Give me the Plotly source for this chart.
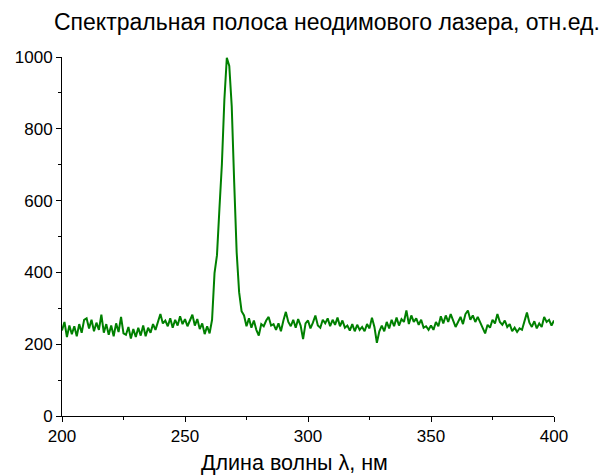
import plotly.graph_objects as go

wavelength = list(range(200, 401))
intensity = [
    # 200-209
    238, 262, 220, 252, 228, 250, 222, 256, 232, 268,
    # 210-219
    272, 244, 268, 236, 260, 240, 282, 232, 256, 226,
    # 220-229
    252, 222, 258, 234, 276, 230, 226, 248, 216, 242,
    # 230-239
    220, 246, 224, 252, 222, 246, 232, 256, 240, 266,
    # 240-249
    284, 258, 266, 250, 272, 246, 268, 252, 278, 256,
    # 250-259
    270, 250, 268, 282, 252, 270, 242, 258, 228, 250,
    # 260-269
    230, 268, 398, 448, 578, 702, 880, 998, 975, 862,
    # 270-279
    650, 456, 345, 292, 280, 250, 272, 246, 266, 240,
    # 280-289
    224, 256, 250, 266, 276, 252, 256, 240, 258, 236,
    # 290-299
    266, 290, 262, 250, 268, 246, 270, 252, 214, 258,
    # 300-309
    266, 244, 260, 280, 252, 246, 268, 258, 272, 250,
    # 310-319
    268, 254, 274, 250, 266, 246, 252, 238, 256, 236,
    # 320-329
    254, 240, 248, 236, 256, 244, 274, 248, 204, 236,
    # 330-339
    252, 236, 262, 244, 268, 250, 274, 252, 270, 262,
    # 340-349
    294, 256, 280, 262, 272, 254, 268, 246, 250, 240,
    # 350-359
    252, 240, 262, 250, 278, 258, 280, 262, 284, 266,
    # 360-369
    248, 262, 276, 256, 284, 294, 268, 280, 262, 276,
    # 370-379
    262, 246, 230, 254, 246, 268, 258, 284, 262, 254,
    # 380-389
    266, 248, 256, 236, 246, 234, 244, 240, 266, 288,
    # 390-399
    260, 248, 264, 244, 258, 248, 276, 262, 268, 252,
    # 400
    266,
]

x_ticks = [200, 250, 300, 350, 400]
y_ticks = [0, 200, 400, 600, 800, 1000]

title_text = "Спектральная полоса неодимового лазера, отн.ед."
x_title = "Длина волны λ, нм"

font_family = "Liberation Sans, Arial, sans-serif"

fig = go.Figure()
fig.add_trace(go.Scatter(
    x=wavelength, y=intensity, mode="lines",
    line=dict(color="#008000", width=2),
    showlegend=False, hoverinfo="skip",
))

fig.update_layout(
    width=601, height=475,
    margin=dict(l=62, r=47, t=57, b=59),
    paper_bgcolor="white", plot_bgcolor="white",
    font=dict(family=font_family, color="black", size=17),
    annotations=[
        dict(text=title_text, xref="paper", yref="paper",
             x=(327 - 62) / 492, y=(416 - 22) / 359,
             xanchor="center", yanchor="middle", showarrow=False,
             font=dict(size=23, family=font_family, color="black")),
        dict(text=x_title, xref="paper", yref="paper",
             x=(294 - 62) / 492, y=(416 - 463) / 359,
             xanchor="center", yanchor="middle", showarrow=False,
             font=dict(size=21.5, family=font_family, color="black")),
    ],
)

fig.update_xaxes(
    range=[200, 400], tickvals=x_ticks, showgrid=False, zeroline=False,
    showline=True, linecolor="black", linewidth=1,
    ticks="outside", ticklen=5, tickwidth=1, tickcolor="black",
    minor=dict(tickvals=[225, 275, 325, 375], ticks="outside", ticklen=3,
               tickcolor="black", tickwidth=1),
    tickfont=dict(size=17),
)
fig.update_yaxes(
    range=[0, 1000], tickvals=y_ticks, showgrid=False, zeroline=False,
    showline=True, linecolor="black", linewidth=1,
    ticks="outside", ticklen=5, tickwidth=1, tickcolor="black",
    minor=dict(tickvals=[100, 300, 500, 700, 900], ticks="outside", ticklen=3,
               tickcolor="black", tickwidth=1),
    tickfont=dict(size=17),
)

fig.write_html("out.html")
